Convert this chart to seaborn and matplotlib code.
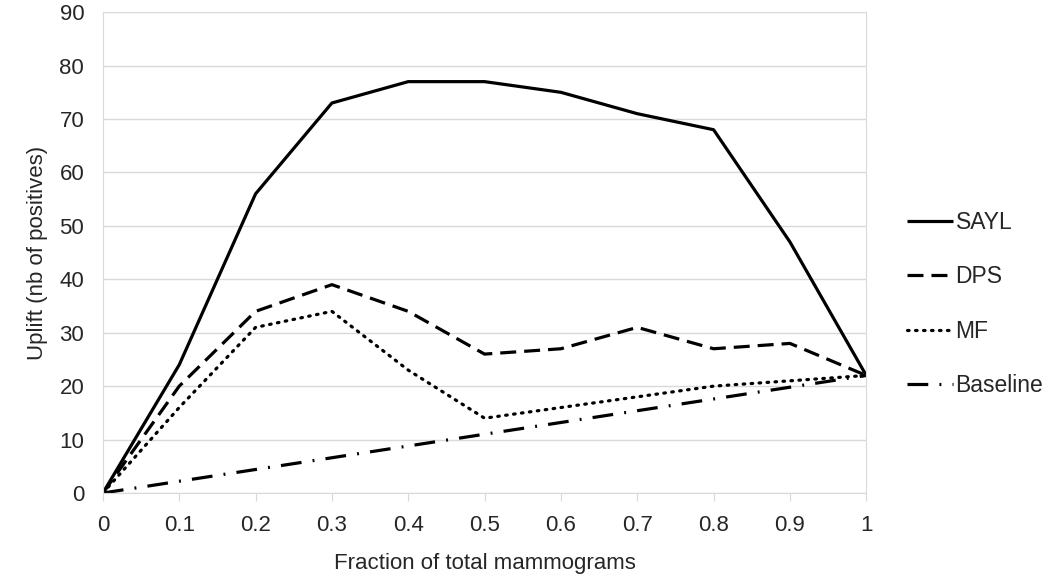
import pandas as pd
import seaborn as sns
import matplotlib.pyplot as plt

# values
fraction = [0, 0.1, 0.2, 0.3, 0.4, 0.5, 0.6, 0.7, 0.8, 0.9, 1]
sayl = [0, 24, 56, 73, 77, 77, 75, 71, 68, 47, 22]
dps = [0, 20, 34, 39, 34, 26, 27, 31, 27, 28, 22]
mf = [0, 16, 31, 34, 23, 14, 16, 18, 20, 21, 22]
baseline = [0, 2.2, 4.4, 6.6, 8.8, 11, 13.2, 15.4, 17.6, 19.8, 22]

x_ticks = [0, 0.1, 0.2, 0.3, 0.4, 0.5, 0.6, 0.7, 0.8, 0.9, 1]
x_tick_labels = ["0", "0.1", "0.2", "0.3", "0.4", "0.5", "0.6", "0.7", "0.8", "0.9", "1"]

data = pd.DataFrame({"fraction": fraction, "SAYL": sayl, "DPS": dps,
                     "MF": mf, "Baseline": baseline})

sns.set_style("white")
plt.rcParams["font.family"] = ["Liberation Sans", "DejaVu Sans"]

fig = plt.figure(figsize=(10.5, 5.8), dpi=100)
ax = fig.add_axes([0.098, 0.15, 0.727, 0.829])

styles = {
    "SAYL": (0, ()),
    "DPS": (0, (5, 2.5)),
    "MF": (0, (0.5, 2)),
    "Baseline": (0, (6.5, 3.5, 0.6, 3.5)),
}
for name, ls in styles.items():
    sns.lineplot(data=data, x="fraction", y=name, ax=ax, color="black",
                 linewidth=2.3, linestyle=ls, label=name,
                 dash_capstyle="round" if name == "MF" else "butt")

ax.set_xlim(0, 1)
ax.set_ylim(0, 90)
ax.set_yticks(range(0, 91, 10))
ax.set_xticks(x_ticks)
ax.set_xticklabels(x_tick_labels)
ax.yaxis.grid(True, color="#d9d9d9", linewidth=1)
ax.set_axisbelow(True)

ax.spines["top"].set_visible(False)
for side in ["right", "left", "bottom"]:
    ax.spines[side].set_color("#d9d9d9")

ax.tick_params(axis="x", which="both", bottom=True, length=6, color="#d9d9d9",
               labelsize=16, pad=10)
ax.tick_params(axis="y", left=False, labelsize=16, pad=10)

ax.set_xlabel("Fraction of total mammograms", fontsize=16, labelpad=12)
ax.set_ylabel("Uplift (nb of positives)", fontsize=16, labelpad=8)

ax.legend(loc="center left", bbox_to_anchor=(1.033, 0.393), frameon=False,
          fontsize=16.5, handlelength=2.0, handletextpad=0.1, labelspacing=1.36,
          borderpad=0.2)

plt.savefig("out.png", dpi=100)
